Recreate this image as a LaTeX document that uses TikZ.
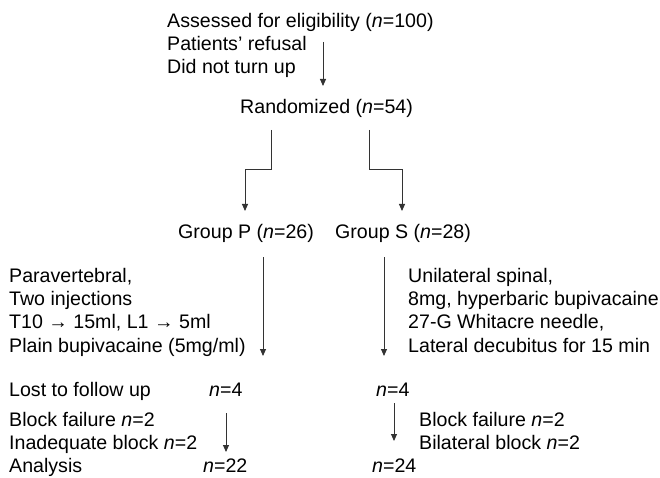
\documentclass[tikz,border=0pt]{standalone}
\usepackage{fontspec}
\setmainfont{Liberation Sans}
\usetikzlibrary{arrows.meta}
\begin{document}
\begin{tikzpicture}[x=1pt,y=-1pt,
  txt/.style={anchor=base west,inner sep=0pt,font=\fontsize{19.6}{23}\selectfont},
  arr/.style={draw=black!80,line width=0.9pt,-{Triangle[width=6pt,length=7pt]}}]
\useasboundingbox (0,0) rectangle (660,478);
% top block
\node[txt] (a1) at (167,28) {Assessed for eligibility (\textit{n}=100)};
\node[txt] (a2) at (167,51) {Patients’ refusal};
\node[txt] (a3) at (167,74) {Did not turn up};
\coordinate (t1) at (323,42);
\coordinate (t2) at (323,86);
\draw[arr] (t1) -- (t2);
\node[txt] (r) at (240,114) {Randomized (\textit{n}=54)};
% elbows
\coordinate (el1) at (271,130);
\coordinate (el2) at (245,211);
\coordinate (er1) at (369,130);
\coordinate (er2) at (402,211);
\draw[arr] (el1) -- (271,169) -| (el2);
\draw[arr] (er1) -- (369,169) -| (er2);
\node[txt] (gp) at (178,238) {Group P (\textit{n}=26)};
\node[txt] (gs) at (335,238) {Group S (\textit{n}=28)};
% interventions
\node[txt] (p1) at (9,282) {Paravertebral,};
\node[txt] (p2) at (9,305) {Two injections};
\node[txt] (p3) at (9,328.5) {T10 → 15ml, L1 → 5ml};
\node[txt] (p4) at (9,352) {Plain bupivacaine (5mg/ml)};
\node[txt] (s1) at (408,282) {Unilateral spinal,};
\node[txt] (s2) at (408,305) {8mg, hyperbaric bupivacaine};
\node[txt] (s3) at (408,328.5) {27-G Whitacre needle,};
\node[txt] (s4) at (408,352) {Lateral decubitus for 15 min};
\coordinate (pa1) at (263,257);
\coordinate (pa2) at (263,356);
\coordinate (sa1) at (384,257);
\coordinate (sa2) at (384,356);
\draw[arr] (pa1) -- (pa2);
\draw[arr] (sa1) -- (sa2);
% follow up
\node[txt] (l1) at (9,396) {Lost to follow up};
\node[txt] (l2) at (209,396) {\textit{n}=4};
\node[txt] (l3) at (376,396) {\textit{n}=4};
\node[txt] (b1) at (9,426) {Block failure \textit{n}=2};
\node[txt] (b2) at (9,449) {Inadequate block \textit{n}=2};
\node[txt] (b3) at (9,472) {Analysis};
\node[txt] (b4) at (203,472) {\textit{n}=22};
\node[txt] (c1) at (419,426) {Block failure \textit{n}=2};
\node[txt] (c2) at (419,449) {Bilateral block \textit{n}=2};
\node[txt] (c3) at (372,472) {\textit{n}=24};
\coordinate (qa1) at (226,413);
\coordinate (qa2) at (226,452);
\coordinate (ra1) at (394,403);
\coordinate (ra2) at (394,441);
\draw[arr] (qa1) -- (qa2);
\draw[arr] (ra1) -- (ra2);
\end{tikzpicture}
\end{document}
